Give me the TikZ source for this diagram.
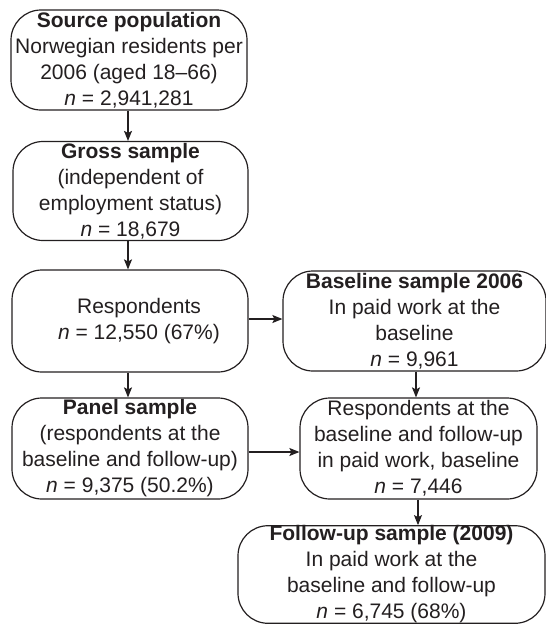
\documentclass[tikz,border=0pt]{standalone}
\usepackage{fontspec}
\setmainfont{Liberation Sans}
\usetikzlibrary{arrows.meta}
\definecolor{ink}{HTML}{231F20}
\begin{document}
\begin{tikzpicture}[x=1pt,y=-1pt,
  box/.style={draw=ink, line width=1.2pt, rounded corners=30pt, inner sep=0pt,
    align=center, text=ink, font=\fontsize{21}{26}\selectfont},
  arr/.style={draw=ink, line width=1.2pt, -{Stealth[length=10pt,width=8pt,inset=2pt]}}]
\useasboundingbox (0,0) rectangle (546,625);
\begin{scope}
\clip (0,0) rectangle (546,625);
\node[box, minimum width=236pt, minimum height=100pt] (src) at (129,60)
  {\textbf{Source population}\\Norwegian residents per\\2006 (aged 18--66)\\\textit{n} = 2,941,281};
\node[box, minimum width=235pt, minimum height=99pt] (gross) at (130.5,191)
  {\textbf{Gross sample}\\(independent of\\employment status)\\\textit{n} = 18,679};
\node[box, minimum width=236pt, minimum height=102pt] (resp) at (130,321)
  {\hspace*{18pt}Respondents\\\hspace*{18pt}\textit{n} = 12,550 (67\%)};
\node[box, minimum width=236pt, minimum height=101pt] (panel) at (130,448.5)
  {\textbf{Panel sample}\\(respondents at the\\baseline and follow-up)\\\textit{n} = 9,375 (50.2\%)};
\node[box, minimum width=263pt, minimum height=100pt] (base) at (414.5,321)
  {\textbf{Baseline sample 2006}\\In paid work at the\\baseline\\\textit{n} = 9,961};
\node[box, minimum width=237pt, minimum height=101pt] (both) at (418.5,448.5)
  {Respondents at the\\baseline and follow-up\\in paid work, baseline\\\textit{n} = 7,446};
\node[box, minimum width=307pt, minimum height=97pt] (follow) at (391.5,574.5)
  {\textbf{Follow-up sample (2009)}\\In paid work at the\\baseline and follow-up\\\textit{n} = 6,745 (68\%)};
\end{scope}
\draw[arr] (src.south -| 128,0) -- (gross.north -| 128,0);
\draw[arr] (gross.south -| 128,0) -- (resp.north -| 128,0);
\draw[arr] (resp.south -| 128,0) -- (panel.north -| 128,0);
\draw[arr] (resp.east |- 0,319) -- (base.west |- 0,319);
\draw[arr] (panel.east |- 0,452) -- (both.west |- 0,452);
\draw[arr] (base.south -| 416,0) -- (both.north -| 416,0);
\draw[arr] (both.south -| 418,0) -- (follow.north -| 418,0);
\end{tikzpicture}
\end{document}
